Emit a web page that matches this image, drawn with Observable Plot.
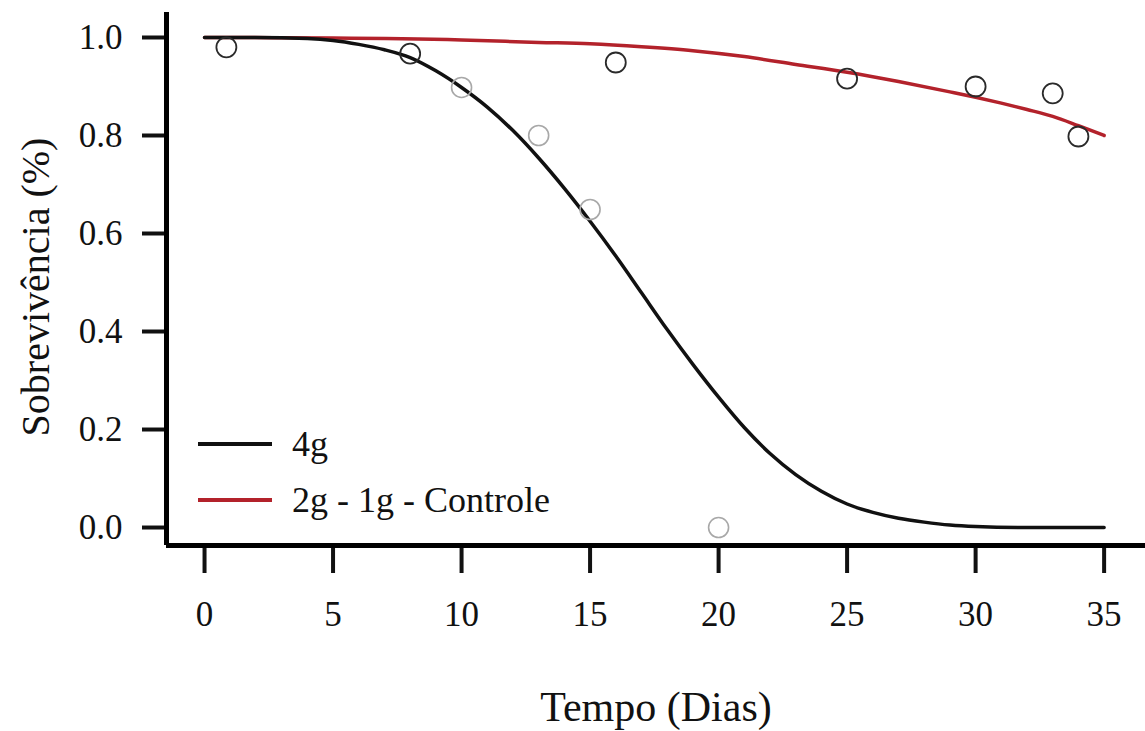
<!DOCTYPE html>
<html>
<head>
<meta charset="utf-8">
<script src="https://cdn.jsdelivr.net/npm/d3@7"></script>
<script src="https://cdn.jsdelivr.net/npm/@observablehq/plot@0.6"></script>
<style>
  html, body { margin: 0; padding: 0; background: #fff; }
  #wrap { position: relative; width: 1145px; height: 731px; font-family: "Liberation Serif", "Times New Roman", serif; }
  #legend { position: absolute; left: 198px; top: 416px; }
  .item { display: flex; align-items: center; height: 56px; }
  .swatch { width: 74px; height: 4px; margin-right: 20px; }
  .lab { font-size: 36px; color: #111; line-height: 1; }
</style>
</head>
<body>
<div id="wrap"></div>
<script>
// ---- data ----
const series = ["4g", "2g - 1g - Controle"];
const seriesColors = ["#111111", "#b3222b"];

// fitted curve, 4g
const days4g = [0, 2, 4, 5, 6, 7, 8, 9, 10, 11, 12, 13, 14, 15, 16, 17, 18, 19, 20, 21, 22, 23, 24, 25, 26, 27, 28, 29, 30, 32, 35];
const surv4g = [1.0, 1.0, 0.998, 0.994, 0.986, 0.975, 0.959, 0.932, 0.898, 0.858, 0.81, 0.754, 0.692, 0.625, 0.554, 0.479, 0.404, 0.333, 0.266, 0.204, 0.151, 0.108, 0.074, 0.048, 0.031, 0.019, 0.011, 0.005, 0.002, 0.0, 0.0];

// fitted curve, 2g - 1g - Controle
const daysCtrl = [0, 5, 10, 13, 15, 17, 19, 21, 23, 25, 27, 29, 30, 31, 32, 33, 34, 35];
const survCtrl = [1.0, 0.999, 0.995, 0.99, 0.987, 0.981, 0.973, 0.961, 0.945, 0.929, 0.91, 0.889, 0.878, 0.866, 0.853, 0.839, 0.82, 0.80];

// observed points (dark circles)
const obsDarkDays = [0.85, 8, 16, 25, 30, 33, 34];
const obsDarkSurv = [0.98, 0.967, 0.949, 0.916, 0.90, 0.886, 0.798];
// observed points (light circles)
const obsLightDays = [10, 13, 15, 20];
const obsLightSurv = [0.898, 0.80, 0.649, 0.0];

// axes
const xTicks = [0, 5, 10, 15, 20, 25, 30, 35];
const yTicks = [0.0, 0.2, 0.4, 0.6, 0.8, 1.0];
const xDomain = [-1.48, 36.61];
const yDomain = [-0.0367, 1.051];
const xTitle = "Tempo (Dias)";
const yTitle = "Sobrevivência (%)";

// ---- build tables ----
const curve4g = days4g.map((d, i) => ({day: d, s: surv4g[i]}));
const curveCtrl = daysCtrl.map((d, i) => ({day: d, s: survCtrl[i]}));
const dark = obsDarkDays.map((d, i) => ({day: d, s: obsDarkSurv[i]}));
const light = obsLightDays.map((d, i) => ({day: d, s: obsLightSurv[i]}));

const font = '"Liberation Serif", "Times New Roman", serif';

const chart = Plot.plot({
  width: 1145,
  height: 731,
  marginTop: 12,
  marginLeft: 166,
  marginRight: 0,
  marginBottom: 186,
  style: {fontFamily: font, background: "#fff", color: "#111"},
  x: {domain: xDomain},
  y: {domain: yDomain},
  marks: [
    Plot.axisX({
      ticks: xTicks, tickSize: 28, tickPadding: 28, strokeWidth: 4,
      fontSize: 35, tickFormat: d3.format("d"), label: null
    }),
    Plot.axisY({
      ticks: yTicks, tickSize: 24, tickPadding: 20, strokeWidth: 4,
      fontSize: 35, tickFormat: d3.format(".1f"), label: null
    }),
    Plot.text([xTitle], {frameAnchor: "bottom", dy: 162, lineAnchor: "middle", textAnchor: "middle", fontSize: 42, fill: "#111"}),
    Plot.text([yTitle], {frameAnchor: "left", dx: -130, dy: 8, rotate: -90, lineAnchor: "middle", textAnchor: "middle", fontSize: 40, fill: "#111"}),
    Plot.ruleY([yDomain[0]], {x1: xDomain[0], x2: xDomain[1], stroke: "#000", strokeWidth: 5}),
    Plot.ruleX([xDomain[0]], {y1: yDomain[0], y2: yDomain[1], stroke: "#000", strokeWidth: 5}),
    Plot.line(curveCtrl, {x: "day", y: "s", stroke: seriesColors[1], strokeWidth: 3.5, curve: "monotone-x"}),
    Plot.line(curve4g, {x: "day", y: "s", stroke: seriesColors[0], strokeWidth: 3.5, curve: "monotone-x"}),
    Plot.dot(light, {x: "day", y: "s", r: 10, stroke: "#a8a8a8", strokeWidth: 1.6, fill: "none"}),
    Plot.dot(dark, {x: "day", y: "s", r: 10, stroke: "#2a2a2a", strokeWidth: 1.8, fill: "none"})
  ]
});

const wrap = document.getElementById("wrap");
wrap.appendChild(chart);

// legend inside the plot area
const legend = document.createElement("div");
legend.id = "legend";
series.forEach((name, i) => {
  const item = document.createElement("div");
  item.className = "item";
  const sw = document.createElement("div");
  sw.className = "swatch";
  sw.style.background = seriesColors[i];
  const lab = document.createElement("span");
  lab.className = "lab";
  lab.textContent = name;
  item.appendChild(sw);
  item.appendChild(lab);
  legend.appendChild(item);
});
wrap.appendChild(legend);
</script>
</body>
</html>
